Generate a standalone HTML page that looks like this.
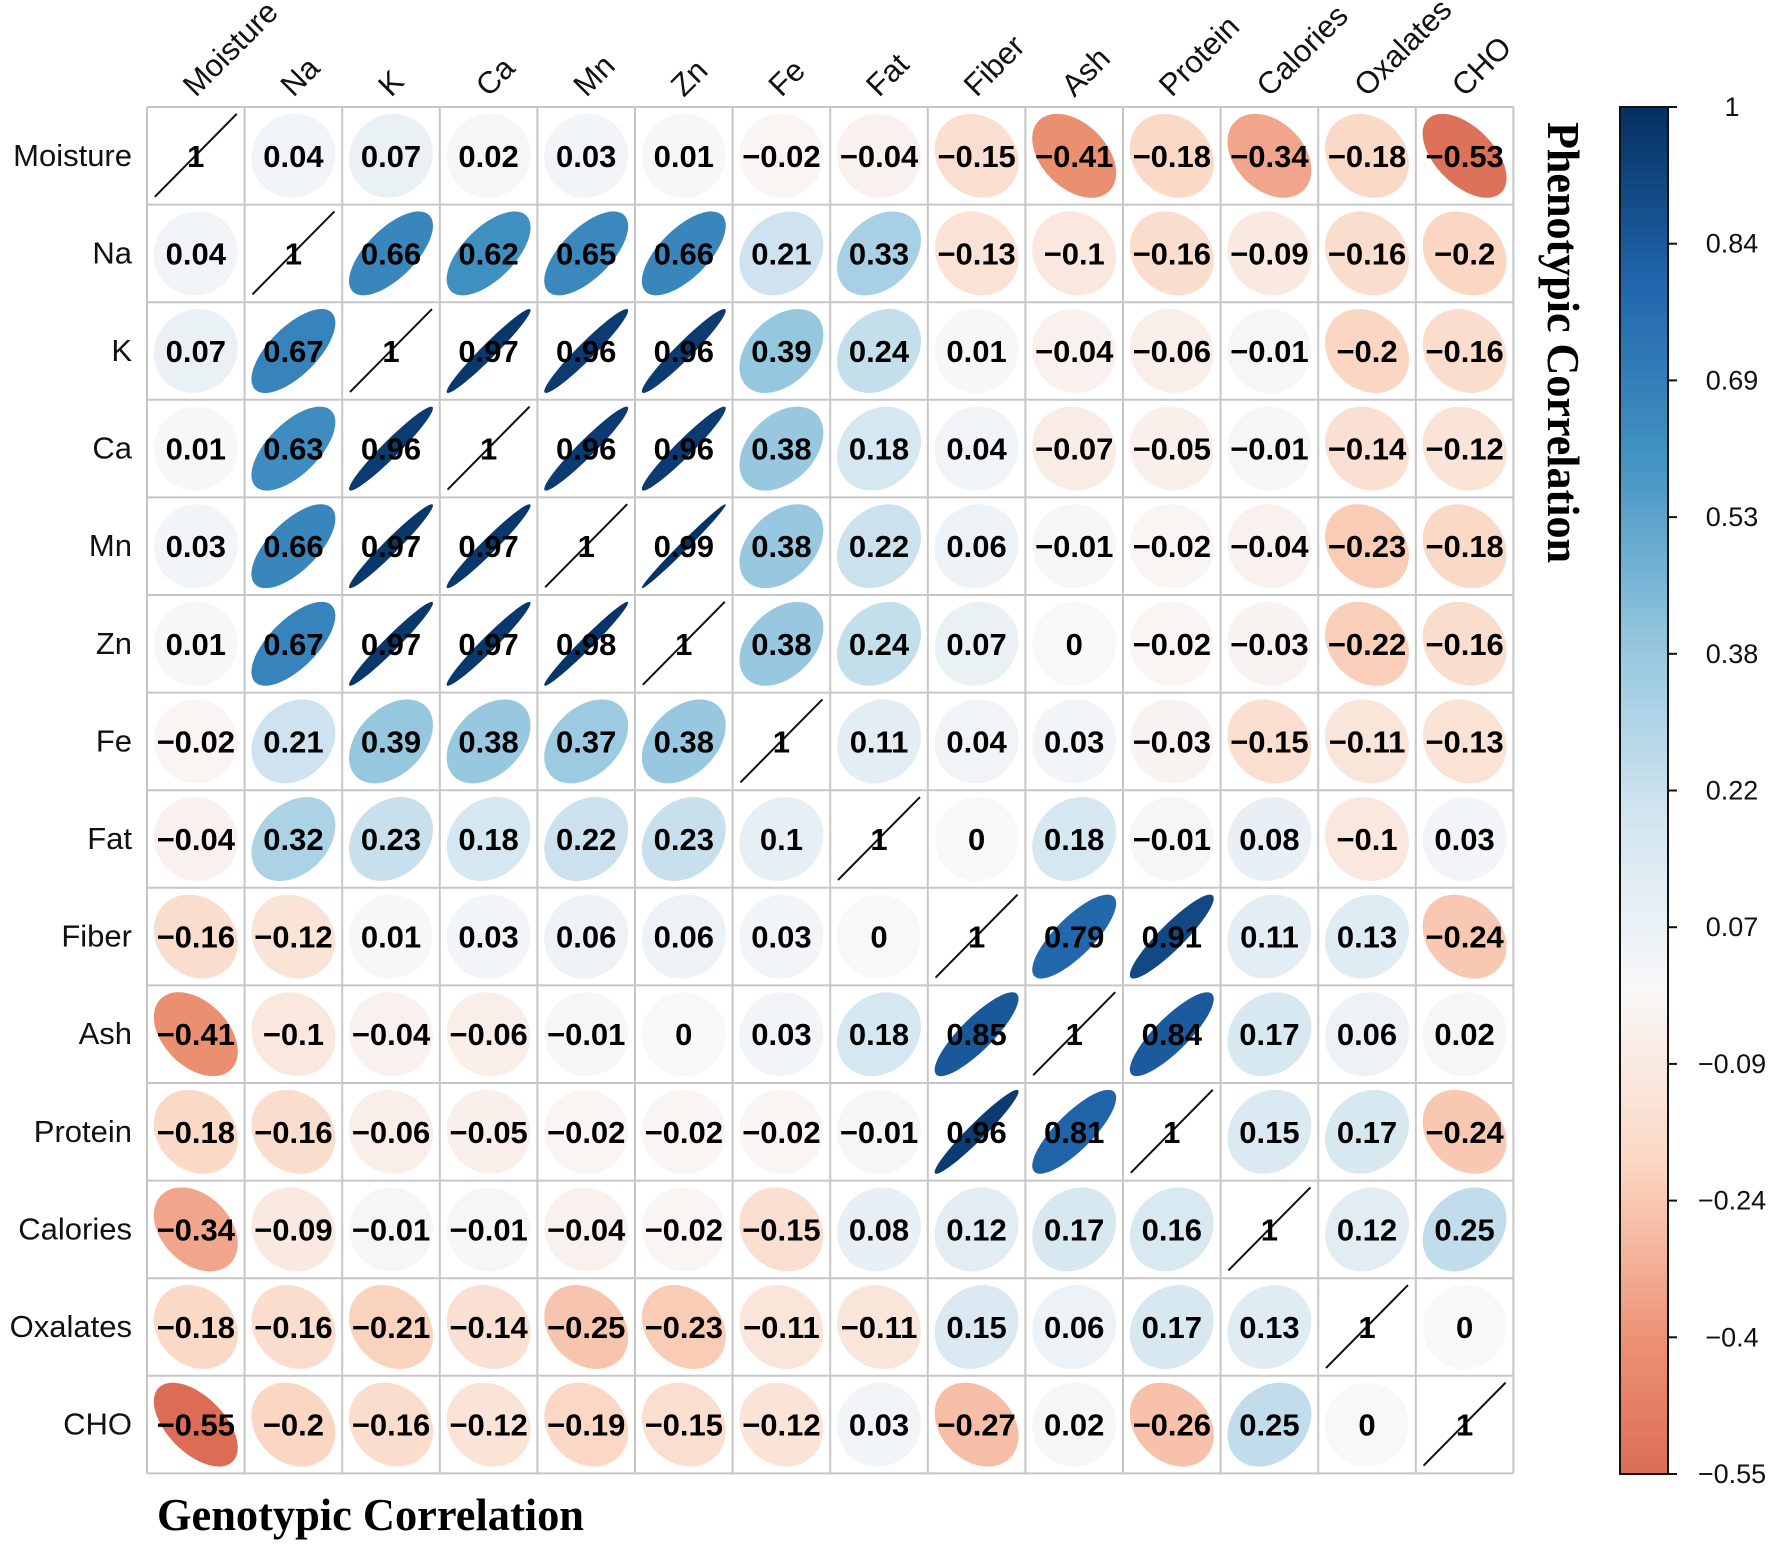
<!DOCTYPE html>
<html><head><meta charset="utf-8"><style>
html,body{margin:0;padding:0;background:#fff;}
svg{display:block;}
</style></head><body>
<svg id="s" xmlns="http://www.w3.org/2000/svg" width="1772" height="1561" viewBox="0 0 1772 1561">
<rect width="1772" height="1561" fill="#fff"/>
<g id="g"></g>
<text x="1548" y="122" transform="rotate(90 1548 122)" font-family="Liberation Serif, serif" font-weight="bold" font-size="46" textLength="441" lengthAdjust="spacingAndGlyphs">Phenotypic Correlation</text>
<text x="157" y="1530" font-family="Liberation Serif, serif" font-weight="bold" font-size="46" textLength="427" lengthAdjust="spacingAndGlyphs">Genotypic Correlation</text>
</svg>
<script>
var names=["Moisture","Na","K","Ca","Mn","Zn","Fe","Fat","Fiber","Ash","Protein","Calories","Oxalates","CHO"];
var M=[
[1,0.04,0.07,0.02,0.03,0.01,-0.02,-0.04,-0.15,-0.41,-0.18,-0.34,-0.18,-0.53],
[0.04,1,0.66,0.62,0.65,0.66,0.21,0.33,-0.13,-0.1,-0.16,-0.09,-0.16,-0.2],
[0.07,0.67,1,0.97,0.96,0.96,0.39,0.24,0.01,-0.04,-0.06,-0.01,-0.2,-0.16],
[0.01,0.63,0.96,1,0.96,0.96,0.38,0.18,0.04,-0.07,-0.05,-0.01,-0.14,-0.12],
[0.03,0.66,0.97,0.97,1,0.99,0.38,0.22,0.06,-0.01,-0.02,-0.04,-0.23,-0.18],
[0.01,0.67,0.97,0.97,0.98,1,0.38,0.24,0.07,0,-0.02,-0.03,-0.22,-0.16],
[-0.02,0.21,0.39,0.38,0.37,0.38,1,0.11,0.04,0.03,-0.03,-0.15,-0.11,-0.13],
[-0.04,0.32,0.23,0.18,0.22,0.23,0.1,1,0,0.18,-0.01,0.08,-0.1,0.03],
[-0.16,-0.12,0.01,0.03,0.06,0.06,0.03,0,1,0.79,0.91,0.11,0.13,-0.24],
[-0.41,-0.1,-0.04,-0.06,-0.01,0,0.03,0.18,0.85,1,0.84,0.17,0.06,0.02],
[-0.18,-0.16,-0.06,-0.05,-0.02,-0.02,-0.02,-0.01,0.96,0.81,1,0.15,0.17,-0.24],
[-0.34,-0.09,-0.01,-0.01,-0.04,-0.02,-0.15,0.08,0.12,0.17,0.16,1,0.12,0.25],
[-0.18,-0.16,-0.21,-0.14,-0.25,-0.23,-0.11,-0.11,0.15,0.06,0.17,0.13,1,0],
[-0.55,-0.2,-0.16,-0.12,-0.19,-0.15,-0.12,0.03,-0.27,0.02,-0.26,0.25,0,1]];
var stops=[[-1,[103,0,31]],[-0.8,[178,24,43]],[-0.6,[214,96,77]],[-0.4,[236,145,115]],[-0.2,[251,214,194]],[0,[248,248,248]],[0.2,[209,229,240]],[0.4,[146,197,222]],[0.6,[67,147,195]],[0.8,[33,102,172]],[1,[5,48,97]]];
function col(r){for(var i=0;i<stops.length-1;i++){var a=stops[i],b=stops[i+1];if(r<=b[0]){var t=(r-a[0])/(b[0]-a[0]);var c=a[1].map(function(v,k){return Math.round(v+(b[1][k]-v)*t)});return "rgb("+c.join(",")+")";}}return "rgb(5,48,97)";}
var L=147,T=107,C=97.6,N=14;
var h='';
var F='font-family="Liberation Sans, sans-serif"';
for(var i=0;i<N;i++)for(var j=0;j<N;j++){
 var x=L+j*C,y=T+i*C,cx=x+C/2,cy=y+C/2,r=M[i][j];
 if(i==j){h+='<line x1="'+(x+C*0.08)+'" y1="'+(y+C*0.92)+'" x2="'+(x+C*0.92)+'" y2="'+(y+C*0.07)+'" stroke="#111" stroke-width="2"/>';}
 else{var k=0.43*C,a=k*Math.sqrt(1+Math.abs(r)),b=k*Math.sqrt(1-Math.abs(r));var ang=r>=0?-45:45;
  h+='<ellipse cx="'+cx+'" cy="'+cy+'" rx="'+a+'" ry="'+b+'" transform="rotate('+ang+' '+cx+' '+cy+')" fill="'+col(r)+'"/>';}
 var s=(r<0?'\u2212':'')+String(Math.abs(r));
 h+='<text x="'+cx+'" y="'+(cy+11)+'" text-anchor="middle" '+F+' font-weight="bold" font-size="31" fill="#000">'+s+'</text>';
}
for(var i=0;i<=N;i++){h+='<line x1="'+(L+i*C)+'" y1="'+T+'" x2="'+(L+i*C)+'" y2="'+(T+N*C)+'" stroke="#c6c6c6" stroke-width="2"/>';
h+='<line x1="'+L+'" y1="'+(T+i*C)+'" x2="'+(L+N*C)+'" y2="'+(T+i*C)+'" stroke="#c6c6c6" stroke-width="2"/>';}
for(var i=0;i<N;i++){
 h+='<text x="132" y="'+(T+i*C+C/2+10)+'" text-anchor="end" '+F+' font-size="31" fill="#111">'+names[i]+'</text>';
 var ax=L+i*C+C/2,ay=98;
 h+='<text x="'+ax+'" y="'+ay+'" transform="rotate(-45 '+ax+' '+ay+')" '+F+' font-size="31" fill="#111">'+names[i]+'</text>';
}
var bx=1620,bw=48,bt=107,bb=1474,n=150;
for(var q=0;q<n;q++){var v=1-(q+0.5)/n*1.55;h+='<rect x="'+bx+'" y="'+(bt+q*(bb-bt)/n)+'" width="'+bw+'" height="'+((bb-bt)/n+0.8)+'" fill="'+col(v)+'"/>';}
h+='<rect x="'+bx+'" y="'+bt+'" width="'+bw+'" height="'+(bb-bt)+'" fill="none" stroke="#111" stroke-width="2"/>';
var ticks=["1","0.84","0.69","0.53","0.38","0.22","0.07","\u22120.09","\u22120.24","\u22120.4","\u22120.55"];
for(var q=0;q<11;q++){var ty=bt+q*(bb-bt)/10;h+='<line x1="'+(bx+bw)+'" y1="'+ty+'" x2="'+(bx+bw+9)+'" y2="'+ty+'" stroke="#111" stroke-width="2"/>';
h+='<text x="1732" y="'+(ty+9)+'" text-anchor="middle" '+F+' font-size="27" fill="#111">'+ticks[q]+'</text>';}
document.getElementById('g').innerHTML=h;
</script>
</body></html>
